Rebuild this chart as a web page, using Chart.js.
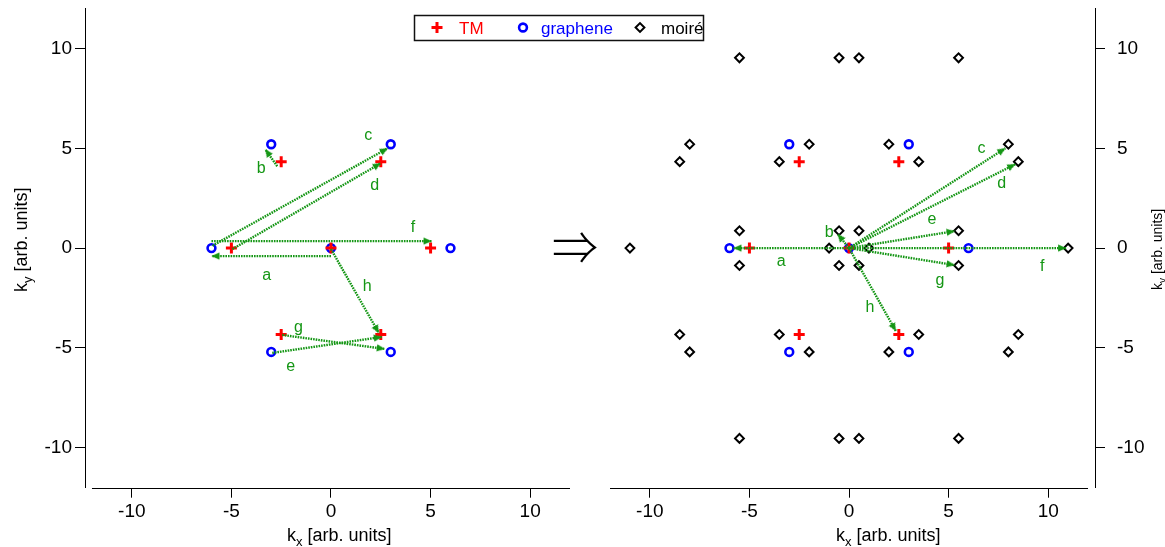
<!DOCTYPE html>
<html>
<head>
<meta charset="utf-8">
<script src="https://cdn.jsdelivr.net/npm/chart.js@4.4.1/dist/chart.umd.min.js"></script>
<style>
  html, body { margin: 0; padding: 0; background: #fff; }
  #wrap { position: relative; width: 1165px; height: 547px; }
  #wrap canvas { position: absolute; left: 0; top: 0; }
</style>
</head>
<body>
<div id="wrap">
  <canvas id="leftChart" width="1165" height="547"></canvas>
  <canvas id="rightChart" width="1165" height="547"></canvas>
</div>
<script>
// lattice points
const tmX = [0, -5, 5, -2.5, 2.5, -2.5, 2.5];
const tmY = [0, 0, 0, 4.33, 4.33, -4.33, -4.33];
const grapheneX = [0, -6, 6, -3, 3, -3, 3];
const grapheneY = [0, 0, 0, 5.2, 5.2, -5.2, -5.2];
const moireX = [
  -5.5, -0.5, 0.5, 5.5,
  -8, -2, 2, 8,
  -8.5, -3.5, 3.5, 8.5,
  -5.5, -0.5, 0.5, 5.5,
  -11, -1, 1, 11,
  -5.5, -0.5, 0.5, 5.5,
  -8.5, -3.5, 3.5, 8.5,
  -8, -2, 2, 8,
  -5.5, -0.5, 0.5, 5.5
];
const moireY = [
  9.53, 9.53, 9.53, 9.53,
  5.2, 5.2, 5.2, 5.2,
  4.33, 4.33, 4.33, 4.33,
  0.87, 0.87, 0.87, 0.87,
  0, 0, 0, 0,
  -0.87, -0.87, -0.87, -0.87,
  -4.33, -4.33, -4.33, -4.33,
  -5.2, -5.2, -5.2, -5.2,
  -9.53, -9.53, -9.53, -9.53
];

// arrows a..h
const arrowNames = ["a", "b", "c", "d", "e", "f", "g", "h"];
const leftFromX = [0, -2.7, -5.95, -4.95, -2.95, -6, -2.45, 0];
const leftFromY = [-0.4, 4.1, 0.12, -0.05, -5.25, 0.35, -4.35, -0.05];
const leftToX = [-6, -3.3, 2.85, 2.5, 2.55, 5.05, 2.7, 2.4];
const leftToY = [-0.4, 4.95, 5.0, 4.25, -4.45, 0.35, -5.05, -4.25];
const leftLabelX = [-3.23, -3.5, 1.87, 2.2, -2.02, 4.12, -1.63, 1.82];
const leftLabelY = [-1.37, 4.0, 5.63, 3.13, -5.95, 1.05, -4.0, -1.95];

const rightToX = [-5.8, -0.57, 7.85, 8.35, 5.3, 10.9, 5.3, 2.35];
const rightToY = [0, 0.7, 5.0, 4.2, 0.85, 0, -0.85, -4.15];
const rightLabelX = [-3.4, -1.0, 6.65, 7.67, 4.17, 9.7, 4.56, 1.05];
const rightLabelY = [-0.7, 0.8, 4.97, 3.25, 1.43, -0.95, -1.65, -3.0];

const xTicks = [-10, -5, 0, 5, 10];
const yTicks = [-10, -5, 0, 5, 10];

const GREEN = "rgb(20,150,20)";
const FONT = "Liberation Sans";

// arrow head image, tip at the centre, pointing up
const arrowHead = document.createElement("canvas");
arrowHead.width = 18;
arrowHead.height = 18;
(function () {
  const c = arrowHead.getContext("2d");
  c.fillStyle = GREEN;
  c.beginPath();
  c.moveTo(9, 9);
  c.lineTo(12.6, 17);
  c.lineTo(5.4, 17);
  c.closePath();
  c.fill();
})();

function pts(xs, ys) {
  return xs.map((x, i) => ({ x: x, y: ys[i] }));
}

function markerSets(withMoire) {
  const sets = [
    {
      label: "TM",
      data: pts(tmX, tmY),
      pointStyle: "cross",
      pointRadius: 5.5,
      pointBorderWidth: 3,
      pointBorderColor: "#ff0000",
      order: 2
    },
    {
      label: "graphene",
      data: pts(grapheneX, grapheneY),
      pointStyle: "circle",
      pointRadius: 3.9,
      pointBorderWidth: 2.6,
      pointBorderColor: "#0000ff",
      pointBackgroundColor: "rgba(0,0,0,0)",
      order: 3
    }
  ];
  if (withMoire) {
    sets.push({
      label: "moiré",
      data: pts(moireX, moireY),
      pointStyle: "rectRot",
      pointRadius: 4.4,
      pointBorderWidth: 2,
      pointBorderColor: "#000",
      pointBackgroundColor: "rgba(0,0,0,0)",
      order: 4
    });
  }
  return sets;
}

function arrowSet(x0, y0, x1, y1) {
  const ang = Math.atan2(x1 - x0, y1 - y0) * 180 / Math.PI;
  return {
    data: [{ x: x0, y: y0 }, { x: x1, y: y1 }],
    showLine: true,
    borderColor: GREEN,
    borderWidth: 2.4,
    borderDash: [1.6, 1],
    pointRadius: [0, 4],
    pointStyle: arrowHead,
    pointRotation: c => (c.dataIndex ? ang : 0),
    order: 1
  };
}

function labelPlugin(lx, ly) {
  return {
    id: "arrowLabels",
    afterDatasetsDraw(chart) {
      const ctx = chart.ctx;
      const sx = chart.scales.x, sy = chart.scales.y;
      ctx.save();
      ctx.fillStyle = GREEN;
      ctx.font = "16px '" + FONT + "'";
      ctx.textAlign = "center";
      ctx.textBaseline = "middle";
      arrowNames.forEach((n, i) => {
        ctx.fillText(n, sx.getPixelForValue(lx[i]), sy.getPixelForValue(ly[i]));
      });
      ctx.restore();
    }
  };
}

function drawKTitle(ctx, sub, x, y, size, rotate) {
  ctx.save();
  ctx.translate(x, y);
  if (rotate) ctx.rotate(-Math.PI / 2);
  ctx.fillStyle = "#000";
  ctx.textAlign = "left";
  ctx.textBaseline = "alphabetic";
  ctx.font = size + "px '" + FONT + "'";
  ctx.fillText("k", 0, 0);
  let w = ctx.measureText("k").width;
  ctx.font = Math.round(size * 0.7) + "px '" + FONT + "'";
  ctx.fillText(sub, w, size * 0.28);
  w += ctx.measureText(sub).width;
  ctx.font = size + "px '" + FONT + "'";
  ctx.fillText(" [arb. units]", w, 0);
  ctx.restore();
}

// x axis line only across the -12..12 range (Igor style standoff)
function axisPlugin(titles) {
  return {
    id: "axisExtras",
    afterDraw(chart) {
      const ctx = chart.ctx;
      const sx = chart.scales.x;
      const yb = Math.round(chart.chartArea.bottom) + 0.5;
      ctx.save();
      ctx.strokeStyle = "#000";
      ctx.lineWidth = 1;
      ctx.beginPath();
      ctx.moveTo(sx.getPixelForValue(-12), yb);
      ctx.lineTo(sx.getPixelForValue(12), yb);
      ctx.stroke();
      ctx.restore();
      titles.forEach(t => drawKTitle(ctx, t.sub, t.x, t.y, t.size, t.rot));
    }
  };
}

const legendPlugin = {
  id: "legendBox",
  afterDraw(chart) {
    const ctx = chart.ctx;
    ctx.save();
    ctx.fillStyle = "#fff";
    ctx.fillRect(414.5, 15.5, 289, 25);
    ctx.strokeStyle = "#111";
    ctx.lineWidth = 1.5;
    ctx.strokeRect(414.5, 15.5, 289, 25);
    const cy = 27.5;
    // TM cross
    ctx.strokeStyle = "#ff0000";
    ctx.lineWidth = 3;
    ctx.beginPath();
    ctx.moveTo(431.5, cy); ctx.lineTo(442.5, cy);
    ctx.moveTo(437, cy - 5.5); ctx.lineTo(437, cy + 5.5);
    ctx.stroke();
    // graphene circle
    ctx.strokeStyle = "#0000ff";
    ctx.lineWidth = 2.6;
    ctx.beginPath();
    ctx.arc(523, cy, 3.9, 0, Math.PI * 2);
    ctx.stroke();
    // moire diamond
    ctx.strokeStyle = "#000";
    ctx.lineWidth = 2;
    ctx.beginPath();
    ctx.moveTo(640 - 4.4, cy); ctx.lineTo(640, cy - 4.4);
    ctx.lineTo(640 + 4.4, cy); ctx.lineTo(640, cy + 4.4);
    ctx.closePath();
    ctx.stroke();
    ctx.font = "17px '" + FONT + "'";
    ctx.textBaseline = "alphabetic";
    ctx.textAlign = "left";
    ctx.fillStyle = "#ff0000";
    ctx.fillText("TM", 459, 33.5);
    ctx.fillStyle = "#0000ff";
    ctx.fillText("graphene", 541, 33.5);
    ctx.fillStyle = "#000";
    ctx.fillText("moiré", 661, 33.5);
    // implication arrow between panels
    ctx.font = "300 46px 'Noto Sans CJK JP'";
    ctx.textAlign = "center";
    ctx.textBaseline = "middle";
    ctx.fillText("⇒", 575, 247);
    ctx.restore();
  }
};

function axisOpts(ticks, extra) {
  const o = {
    type: "linear",
    afterBuildTicks: s => { s.ticks = ticks.map(v => ({ value: v })); },
    grid: { drawOnChartArea: false, drawTicks: true, tickLength: 10, color: "#000", lineWidth: 1 },
    border: { display: false },
    ticks: {
      font: { family: FONT, size: 19 },
      color: "#000",
      padding: 3,
      maxRotation: 0,
      autoSkip: false,
      callback: v => String(v)
    }
  };
  return Object.assign(o, extra);
}

function makeChart(id, datasets, padding, xMin, xMax, yPos, yWidth, yPad, plugins) {
  const yAxis = axisOpts(yTicks, {
    position: yPos,
    min: -12,
    max: 12,
    afterFit: s => {
      s.width = yWidth;
      s.paddingTop = 0;
      s.paddingBottom = 0;
    },
    border: { display: true, color: "#000", width: 1 }
  });
  yAxis.ticks.padding = yPad;
  return new Chart(document.getElementById(id), {
    type: "scatter",
    data: { datasets: datasets },
    options: {
      responsive: false,
      animation: false,
      events: [],
      layout: { padding: padding },
      plugins: { legend: { display: false }, tooltip: { enabled: false } },
      scales: {
        x: axisOpts(xTicks, {
          min: xMin,
          max: xMax,
          afterFit: s => {
            s.height = 59.3;
            s.paddingLeft = 0;
            s.paddingRight = 0;
          }
        }),
        y: yAxis
      }
    },
    plugins: plugins
  });
}

const leftSets = markerSets(false).concat(
  arrowNames.map((n, i) => arrowSet(leftFromX[i], leftFromY[i], leftToX[i], leftToY[i]))
);
const rightSets = markerSets(true).concat(
  arrowNames.map((n, i) => arrowSet(0, 0, rightToX[i], rightToY[i]))
);

makeChart("leftChart", leftSets, { top: 8, right: 595, left: 0, bottom: 0 },
  -12.35, 12, "left", 85, 3,
  [labelPlugin(leftLabelX, leftLabelY),
   axisPlugin([{ sub: "x", x: 287, y: 541, size: 18, rot: false },
               { sub: "y", x: 27, y: 292, size: 18, rot: true }])]);

makeChart("rightChart", rightSets, { top: 8, right: 0, left: 610, bottom: 0 },
  -12, 12.35, "right", 70, 12,
  [labelPlugin(rightLabelX, rightLabelY),
   axisPlugin([{ sub: "x", x: 836, y: 541, size: 18, rot: false },
               { sub: "y", x: 1162, y: 290, size: 14, rot: true }]),
   legendPlugin]);
</script>
</body>
</html>
